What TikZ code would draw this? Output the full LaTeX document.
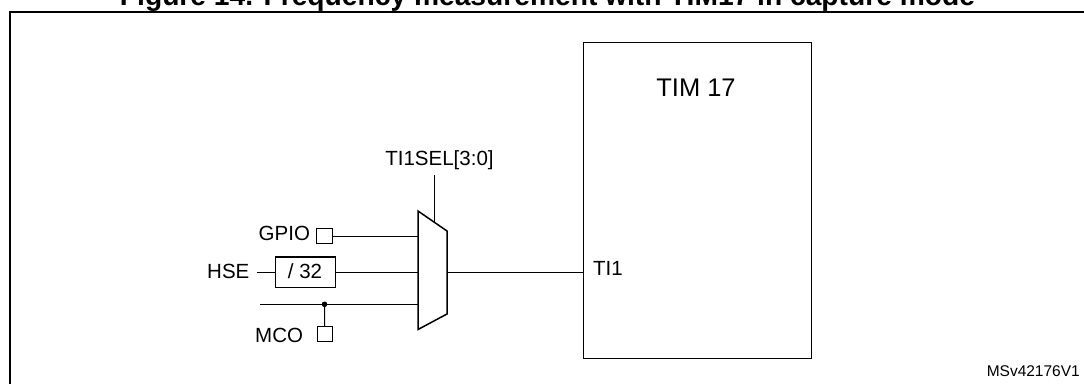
\documentclass[tikz,border=0pt]{standalone}
\usepackage{fontspec}
\setmainfont{Liberation Sans}
\begin{document}
\begin{tikzpicture}[x=1pt,y=-1pt,
  lbl/.style={inner sep=0pt,anchor=base,font=\fontsize{20.5}{24}\selectfont},
  wire/.style={line width=1pt},
  pin/.style={draw,line width=0.9pt,minimum width=15.5pt,minimum height=15pt,inner sep=0pt},
  blk/.style={draw,line width=1.4pt,inner sep=0pt}]
\useasboundingbox (0,0) rectangle (1084,383);
\clip (0,0) rectangle (1084,383);
% title (cut off at top)
\node[inner sep=0pt,anchor=base,font=\fontsize{28.2}{32}\selectfont\bfseries] (title) at (547.5,5.5) {Figure 14. Frequency measurement with TIM17 in capture mode};
% outer frame
\draw[line width=2pt] (10,400) |- (1100,12);
% TIM17 block
\node[blk,minimum width=228pt,minimum height=316pt,anchor=north west] (tim) at (583,42) {};
\node[lbl,font=\fontsize{25.5}{30}\selectfont] (timl) at (696,96) {TIM 17};
\node[lbl,anchor=base west] (ti1) at (593,275) {TI1};
% mux
\coordinate (mtl) at (418,211);
\coordinate (mbl) at (418,329.5);
\coordinate (mtr) at (447,231);
\coordinate (mbr) at (447,314);
\draw[line width=1.5pt,line join=miter] (mtl) -- (mtr) -- (mbr) -- (mbl) -- cycle;
\coordinate (msel) at (434.3,221.8);
\coordinate (min1) at (418,236);
\coordinate (min2) at (418,272);
\coordinate (min3) at (418,304.3);
\coordinate (mout) at (447,272);
\node[lbl] (sel) at (439.5,165) {TI1SEL[3:0]};
\coordinate (selend) at (434.3,175);
\draw[wire] (msel) -- (selend);
% output
\coordinate (ti1in) at (583,272);
\draw[wire] (mout) -- (ti1in);
% GPIO
\node[lbl,anchor=base west] (gpio) at (258.5,240.7) {GPIO};
\node[pin] (gpiob) at (324.3,235.5) {};
\draw[wire] (gpiob.east |- min1) -- (min1);
% HSE
\node[lbl,anchor=base west] (hse) at (207,278) {HSE};
\node[draw,line width=1.4pt,minimum width=60pt,minimum height=30.5pt,inner sep=0pt] (div) at (305.3,272.3) {};
\node[lbl] (divl) at (305,278) {/ 32};
\coordinate (hsel) at (257.3,272);
\draw[wire] (hsel) -- (div.west |- hsel);
\draw[wire] (div.east |- min2) -- (min2);
% MCO
\coordinate (in3) at (260,304.3);
\coordinate (dot) at (324.5,304.3);
\draw[wire] (in3) -- (min3);
\fill (dot) circle (2.8pt);
\node[pin] (mcob) at (324.7,333.7) {};
\draw[wire] (dot) -- (mcob.north);
\node[lbl,anchor=base west] (mco) at (255,342.7) {MCO};
% reference
\node[lbl,anchor=base east,font=\fontsize{15.5}{18}\selectfont] (ref) at (1080,376.7) {MSv42176V1};
\end{tikzpicture}
\end{document}
